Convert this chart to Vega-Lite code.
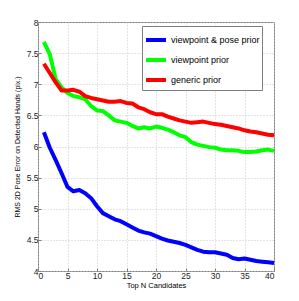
{
  "$schema": "https://vega.github.io/schema/vega-lite/v6.json",
  "width": 236,
  "height": 249,
  "autosize": {"type": "none"},
  "padding": {"left": 38, "top": 22, "right": 25, "bottom": 30},
  "background": "white",
  "config": {
    "font": "Liberation Sans",
    "view": {"stroke": "#7f7f7f", "strokeWidth": 1},
    "axis": {
      "gridColor": "#c8c8c8",
      "gridDash": [1, 2],
      "gridWidth": 1,
      "domain": false,
      "ticks": true,
      "tickSize": -3,
      "tickColor": "#7f7f7f",
      "labelFontSize": 8.5,
      "labelColor": "#222",
      "titleFontWeight": "normal",
      "titleColor": "#000"
    }
  },
  "data": {
    "values": [
      {"n":1,"e":6.23,"m":"viewpoint & pose prior"},{"n":2,"e":5.98,"m":"viewpoint & pose prior"},{"n":3,"e":5.78,"m":"viewpoint & pose prior"},{"n":4,"e":5.57,"m":"viewpoint & pose prior"},{"n":5,"e":5.35,"m":"viewpoint & pose prior"},{"n":6,"e":5.28,"m":"viewpoint & pose prior"},{"n":7,"e":5.30,"m":"viewpoint & pose prior"},{"n":8,"e":5.25,"m":"viewpoint & pose prior"},{"n":9,"e":5.17,"m":"viewpoint & pose prior"},{"n":10,"e":5.04,"m":"viewpoint & pose prior"},
      {"n":11,"e":4.93,"m":"viewpoint & pose prior"},{"n":12,"e":4.88,"m":"viewpoint & pose prior"},{"n":13,"e":4.83,"m":"viewpoint & pose prior"},{"n":14,"e":4.80,"m":"viewpoint & pose prior"},{"n":15,"e":4.75,"m":"viewpoint & pose prior"},{"n":16,"e":4.70,"m":"viewpoint & pose prior"},{"n":17,"e":4.65,"m":"viewpoint & pose prior"},{"n":18,"e":4.62,"m":"viewpoint & pose prior"},{"n":19,"e":4.60,"m":"viewpoint & pose prior"},{"n":20,"e":4.56,"m":"viewpoint & pose prior"},
      {"n":21,"e":4.52,"m":"viewpoint & pose prior"},{"n":22,"e":4.49,"m":"viewpoint & pose prior"},{"n":23,"e":4.47,"m":"viewpoint & pose prior"},{"n":24,"e":4.45,"m":"viewpoint & pose prior"},{"n":25,"e":4.42,"m":"viewpoint & pose prior"},{"n":26,"e":4.38,"m":"viewpoint & pose prior"},{"n":27,"e":4.34,"m":"viewpoint & pose prior"},{"n":28,"e":4.31,"m":"viewpoint & pose prior"},{"n":29,"e":4.30,"m":"viewpoint & pose prior"},{"n":30,"e":4.30,"m":"viewpoint & pose prior"},
      {"n":31,"e":4.28,"m":"viewpoint & pose prior"},{"n":32,"e":4.26,"m":"viewpoint & pose prior"},{"n":33,"e":4.21,"m":"viewpoint & pose prior"},{"n":34,"e":4.19,"m":"viewpoint & pose prior"},{"n":35,"e":4.20,"m":"viewpoint & pose prior"},{"n":36,"e":4.18,"m":"viewpoint & pose prior"},{"n":37,"e":4.16,"m":"viewpoint & pose prior"},{"n":38,"e":4.15,"m":"viewpoint & pose prior"},{"n":39,"e":4.14,"m":"viewpoint & pose prior"},{"n":40,"e":4.13,"m":"viewpoint & pose prior"},

      {"n":1,"e":7.68,"m":"viewpoint prior"},{"n":2,"e":7.48,"m":"viewpoint prior"},{"n":3,"e":7.08,"m":"viewpoint prior"},{"n":4,"e":6.95,"m":"viewpoint prior"},{"n":5,"e":6.86,"m":"viewpoint prior"},{"n":6,"e":6.81,"m":"viewpoint prior"},{"n":7,"e":6.79,"m":"viewpoint prior"},{"n":8,"e":6.76,"m":"viewpoint prior"},{"n":9,"e":6.65,"m":"viewpoint prior"},{"n":10,"e":6.58,"m":"viewpoint prior"},
      {"n":11,"e":6.57,"m":"viewpoint prior"},{"n":12,"e":6.50,"m":"viewpoint prior"},{"n":13,"e":6.42,"m":"viewpoint prior"},{"n":14,"e":6.40,"m":"viewpoint prior"},{"n":15,"e":6.38,"m":"viewpoint prior"},{"n":16,"e":6.33,"m":"viewpoint prior"},{"n":17,"e":6.29,"m":"viewpoint prior"},{"n":18,"e":6.31,"m":"viewpoint prior"},{"n":19,"e":6.29,"m":"viewpoint prior"},{"n":20,"e":6.32,"m":"viewpoint prior"},
      {"n":21,"e":6.30,"m":"viewpoint prior"},{"n":22,"e":6.27,"m":"viewpoint prior"},{"n":23,"e":6.23,"m":"viewpoint prior"},{"n":24,"e":6.18,"m":"viewpoint prior"},{"n":25,"e":6.15,"m":"viewpoint prior"},{"n":26,"e":6.07,"m":"viewpoint prior"},{"n":27,"e":6.03,"m":"viewpoint prior"},{"n":28,"e":6.01,"m":"viewpoint prior"},{"n":29,"e":5.99,"m":"viewpoint prior"},{"n":30,"e":5.98,"m":"viewpoint prior"},
      {"n":31,"e":5.95,"m":"viewpoint prior"},{"n":32,"e":5.94,"m":"viewpoint prior"},{"n":33,"e":5.94,"m":"viewpoint prior"},{"n":34,"e":5.93,"m":"viewpoint prior"},{"n":35,"e":5.91,"m":"viewpoint prior"},{"n":36,"e":5.91,"m":"viewpoint prior"},{"n":37,"e":5.92,"m":"viewpoint prior"},{"n":38,"e":5.94,"m":"viewpoint prior"},{"n":39,"e":5.95,"m":"viewpoint prior"},{"n":40,"e":5.93,"m":"viewpoint prior"},

      {"n":1,"e":7.33,"m":"generic prior"},{"n":2,"e":7.18,"m":"generic prior"},{"n":3,"e":7.03,"m":"generic prior"},{"n":4,"e":6.90,"m":"generic prior"},{"n":5,"e":6.90,"m":"generic prior"},{"n":6,"e":6.91,"m":"generic prior"},{"n":7,"e":6.88,"m":"generic prior"},{"n":8,"e":6.81,"m":"generic prior"},{"n":9,"e":6.78,"m":"generic prior"},{"n":10,"e":6.76,"m":"generic prior"},
      {"n":11,"e":6.74,"m":"generic prior"},{"n":12,"e":6.72,"m":"generic prior"},{"n":13,"e":6.72,"m":"generic prior"},{"n":14,"e":6.73,"m":"generic prior"},{"n":15,"e":6.70,"m":"generic prior"},{"n":16,"e":6.69,"m":"generic prior"},{"n":17,"e":6.63,"m":"generic prior"},{"n":18,"e":6.60,"m":"generic prior"},{"n":19,"e":6.55,"m":"generic prior"},{"n":20,"e":6.52,"m":"generic prior"},
      {"n":21,"e":6.52,"m":"generic prior"},{"n":22,"e":6.48,"m":"generic prior"},{"n":23,"e":6.45,"m":"generic prior"},{"n":24,"e":6.42,"m":"generic prior"},{"n":25,"e":6.40,"m":"generic prior"},{"n":26,"e":6.38,"m":"generic prior"},{"n":27,"e":6.39,"m":"generic prior"},{"n":28,"e":6.40,"m":"generic prior"},{"n":29,"e":6.38,"m":"generic prior"},{"n":30,"e":6.36,"m":"generic prior"},
      {"n":31,"e":6.35,"m":"generic prior"},{"n":32,"e":6.33,"m":"generic prior"},{"n":33,"e":6.31,"m":"generic prior"},{"n":34,"e":6.29,"m":"generic prior"},{"n":35,"e":6.26,"m":"generic prior"},{"n":36,"e":6.24,"m":"generic prior"},{"n":37,"e":6.23,"m":"generic prior"},{"n":38,"e":6.21,"m":"generic prior"},{"n":39,"e":6.19,"m":"generic prior"},{"n":40,"e":6.18,"m":"generic prior"}
    ]
  },
  "mark": {"type": "line", "strokeWidth": 4, "strokeJoin": "round", "strokeCap": "butt"},
  "encoding": {
    "x": {
      "field": "n", "type": "quantitative",
      "scale": {"domain": [0, 40], "nice": false},
      "axis": {"values": [0,5,10,15,20,25,30,35,40], "format": "~g", "title": "Top N Candidates", "titleFontSize": 7.5, "labelPadding": 3, "titlePadding": 2}
    },
    "y": {
      "field": "e", "type": "quantitative",
      "scale": {"domain": [4, 8], "nice": false, "zero": false},
      "axis": {"values": [4,4.5,5,5.5,6,6.5,7,7.5,8], "format": "~g", "title": "RMS 2D Pose Error on Detected Hands (pix.)", "titleFontSize": 7, "labelPadding": 3, "titlePadding": 6}
    },
    "color": {
      "field": "m", "type": "nominal",
      "sort": ["viewpoint & pose prior", "viewpoint prior", "generic prior"],
      "scale": {"domain": ["viewpoint & pose prior", "viewpoint prior", "generic prior"], "range": ["#0000ff", "#00ff00", "#ff0000"]},
      "legend": {
        "title": null,
        "orient": "none",
        "legendX": 104,
        "legendY": 4,
        "padding": 2,
        "strokeColor": "#7f7f7f",
        "fillColor": "white",
        "symbolType": "stroke",
        "symbolSize": 400,
        "symbolStrokeWidth": 4,
        "labelFontSize": 9,
        "labelColor": "#000",
        "rowPadding": -7,
        "labelOffset": 3
      }
    },
    "order": {"field": "n"}
  }
}
